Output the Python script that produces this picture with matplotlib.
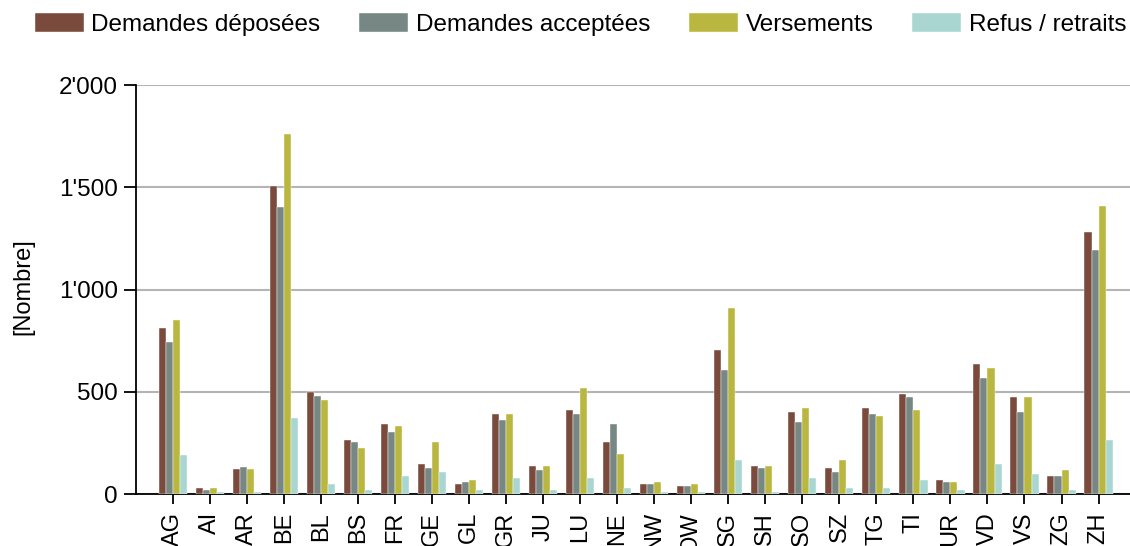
import numpy as np
import matplotlib
matplotlib.use("Agg")
import matplotlib.pyplot as plt
from matplotlib.ticker import FuncFormatter

plt.rcParams["font.family"] = ["Liberation Sans", "DejaVu Sans"]

# Cantons and values
cantons = ["AG", "AI", "AR", "BE", "BL", "BS", "FR", "GE", "GL", "GR", "JU", "LU", "NE",
           "NW", "OW", "SG", "SH", "SO", "SZ", "TG", "TI", "UR", "VD", "VS", "ZG", "ZH"]
deposees = [813, 30, 120, 1506, 501, 265, 343, 148, 50, 392, 138, 413, 255,
            50, 40, 706, 138, 402, 128, 421, 491, 70, 638, 472, 89, 1281]
acceptees = [745, 20, 130, 1403, 480, 255, 304, 128, 60, 363, 119, 392, 343,
             50, 40, 608, 128, 353, 109, 392, 472, 60, 569, 402, 89, 1195]
versements = [852, 30, 120, 1761, 462, 226, 333, 255, 70, 392, 138, 519, 197,
              60, 50, 911, 138, 421, 167, 382, 411, 60, 618, 472, 119, 1408]
refus = [189, 10, 10, 374, 50, 21, 89, 109, 21, 80, 21, 80, 31,
         11, 11, 167, 11, 80, 31, 31, 70, 21, 148, 99, 21, 265]

series = [
    ("Demandes déposées", deposees, "#7a4b3c"),
    ("Demandes acceptées", acceptees, "#778784"),
    ("Versements", versements, "#b9b73f"),
    ("Refus / retraits", refus, "#a9d6d1"),
]

fig = plt.figure(figsize=(11.3, 5.46), dpi=100)
ax = fig.add_axes([0.1204, 0.0952, 0.8796, 0.7491])

x = np.arange(len(cantons))
w = 0.19
for i, (label, vals, color) in enumerate(series):
    ax.bar(x + (i - 1.5) * w, vals, width=w, color=color, label=label,
           edgecolor="white", linewidth=0.3, zorder=3)

ax.set_xlim(-1.0, 25.85)
ax.set_ylim(0, 2000)
ax.set_yticks([0, 500, 1000, 1500, 2000])
ax.yaxis.set_major_formatter(FuncFormatter(lambda v, p: f"{int(v):,}".replace(",", "'")))
ax.grid(axis="y", color="#b4b4b4", linewidth=1.5, zorder=0)

# labels NW / OW run past the bottom edge, as in the original
ax.set_xticks(x)
ax.set_xticklabels(cantons, rotation=90, fontsize=17)
ax.tick_params(axis="y", labelsize=17.5, length=9, width=1.3, direction="out", pad=4)
ax.tick_params(axis="x", length=7, width=1.3, direction="out", pad=6)

for side in ["top", "right"]:
    ax.spines[side].set_visible(False)
ax.spines["left"].set_linewidth(1.3)
ax.spines["bottom"].set_linewidth(1.3)

fig.text(0.021, 0.475, "[Nombre]", rotation=90, fontsize=17, ha="center", va="center")

fig.legend(loc="upper left", bbox_to_anchor=(0.031, 0.976), ncol=4, frameon=False,
           fontsize=17.5, handlelength=2.0, handleheight=0.85, handletextpad=0.32,
           columnspacing=1.6, borderpad=0, borderaxespad=0)

fig.savefig("out.png", dpi=100)
